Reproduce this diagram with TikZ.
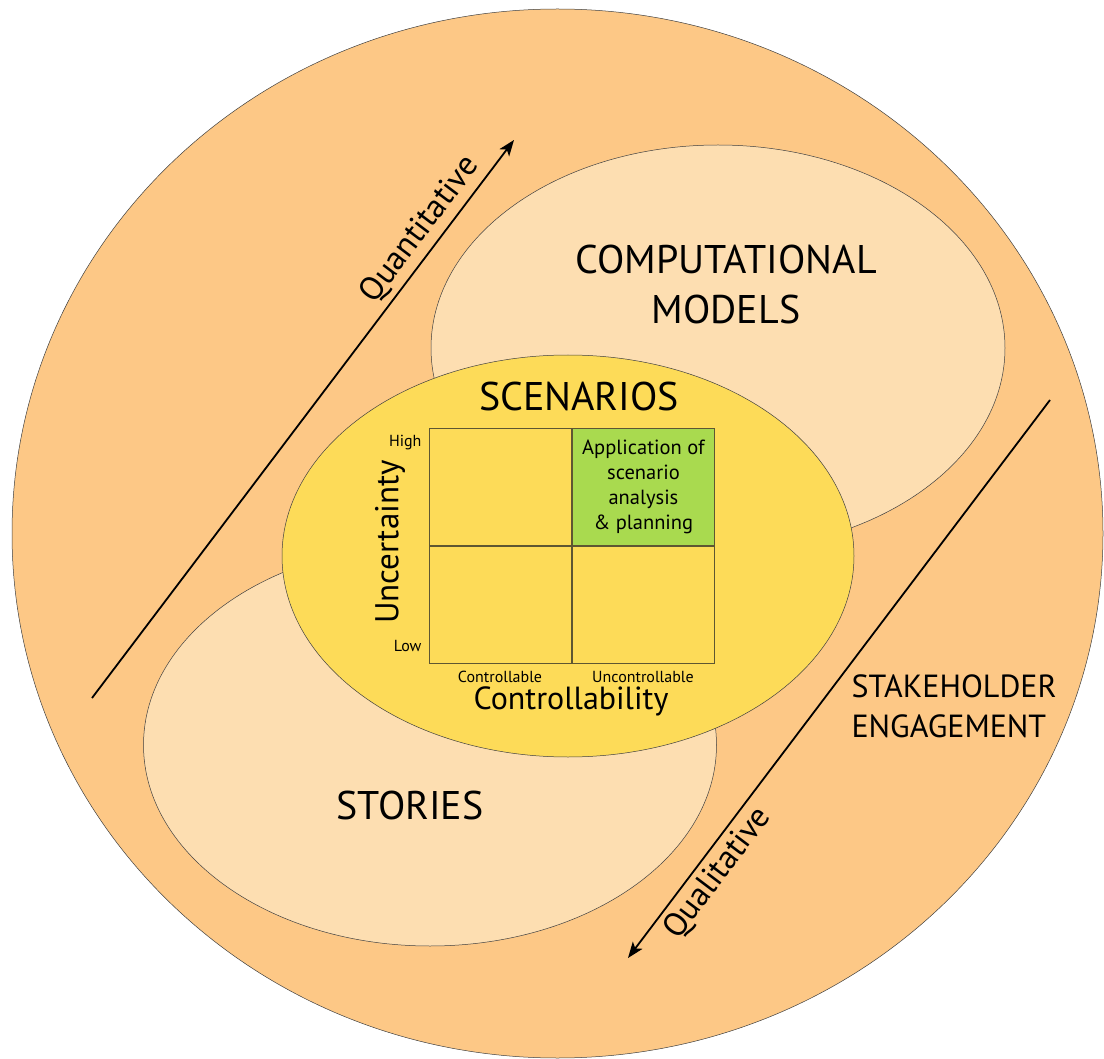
\documentclass[tikz,border=0pt]{standalone}
\usepackage{fontspec}
\setmainfont{PT Sans}
\usetikzlibrary{shapes.geometric,positioning,arrows.meta}
\definecolor{outerorange}{HTML}{FDC886}
\definecolor{paleorange}{HTML}{FDDEB1}
\definecolor{scenyellow}{HTML}{FDDB58}
\definecolor{applgreen}{HTML}{A9DA4F}
\definecolor{gridline}{HTML}{5E5632}

\begin{document}
\begin{tikzpicture}[x=1pt, y=-1pt,
    blob/.style={ellipse, draw=black!75, line width=0.5pt, inner sep=0pt},
    cell/.style={rectangle, draw=gridline, line width=0.7pt, fill=scenyellow, minimum width=142.5pt, minimum height=117pt, inner sep=0pt},
    axisarrow/.style={line width=1.8pt, -{Stealth[length=16pt, width=12pt, inset=4pt]}},
    tick/.style={font=\fontsize{16}{18}\selectfont}]
    \useasboundingbox (0,0) rectangle (1104,1059);
    \clip (0,0) rectangle (1104,1059);

    % the four ellipses
    \node[blob, fill=outerorange, minimum width=1091pt, minimum height=1049pt] (engage) at (557.5,533.5) {};
    \node[blob, fill=paleorange, minimum width=574pt, minimum height=406pt] (models) at (718,348) {};
    \node[blob, fill=paleorange, minimum width=573pt, minimum height=402pt] (stories) at (430,745) {};
    \node[blob, fill=scenyellow, minimum width=572pt, minimum height=402pt] (scen) at (568,556) {};

    % 2x2 grid
    \node[cell] (lowctl) at (500.25,604.5) {};
    \node[cell, right=0pt of lowctl] (lowunc) {};
    \node[cell, above=0pt of lowctl] (highctl) {};
    \node[cell, above=0pt of lowunc, fill=applgreen, align=center, font=\fontsize{20.5}{25}\selectfont] (highunc) {Application of\\scenario\\analysis\\\& planning};

    \node[tick, anchor=east] (high) at (425,443) {High};
    \node[tick, anchor=east] (low) at (425,646) {Low};
    \node[tick] (ctl) at (500,677) {Controllable};
    \node[tick] (unc) at (643,677) {Uncontrollable};
    \node[font=\fontsize{33}{36}\selectfont, rotate=90] (uncert) at (390,542) {Uncertainty};
    \node[font=\fontsize{32}{36}\selectfont] (ctlaxis) at (571,701) {Controllability};

    % titles
    \node[font=\fontsize{40}{50}\selectfont] (scentitle) at (579,397) {SCENARIOS};
    \node[font=\fontsize{40}{50}\selectfont, align=center] (modtitle) at (726,285) {COMPUTATIONAL\\MODELS};
    \node[font=\fontsize{40}{50}\selectfont] (storytitle) at (410,805) {STORIES};
    \node[font=\fontsize{32}{40}\selectfont, align=left, anchor=west] (stake) at (848,706) {STAKEHOLDER\\ENGAGEMENT};

    % quantitative / qualitative arrows
    \coordinate (quan0) at (92,698);
    \coordinate (quan1) at (514,140);
    \coordinate (qual0) at (1050,400);
    \coordinate (qual1) at (628,958);
    \draw[axisarrow] (quan0) -- node[sloped, above, pos=0.817, inner sep=5pt, font=\fontsize{33}{36}\selectfont] {Quantitative} (quan1);
    \draw[axisarrow] (qual0) -- node[sloped, below, pos=0.826, inner sep=5pt, font=\fontsize{33}{36}\selectfont] {Qualitative} (qual1);
\end{tikzpicture}
\end{document}
